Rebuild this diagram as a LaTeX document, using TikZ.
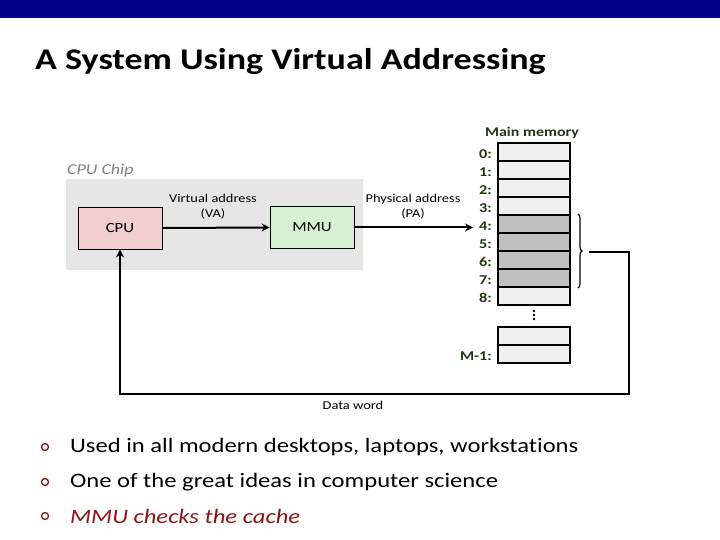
\documentclass[tikz,border=0pt]{standalone}
\usepackage{fontspec}
\setmainfont{Carlito}[FakeStretch=1.2, Ligatures=NoCommon]
\usetikzlibrary{positioning,arrows.meta,calc,decorations.pathreplacing}

\definecolor{barblue}{RGB}{0,0,136}
\definecolor{chipgray}{RGB}{230,230,230}
\definecolor{cpupink}{RGB}{242,206,206}
\definecolor{mmugreen}{RGB}{216,240,210}
\definecolor{celllight}{RGB}{240,240,240}
\definecolor{celldark}{RGB}{192,192,192}
\definecolor{memgreen}{RGB}{30,56,20}
\definecolor{darkred}{RGB}{140,20,20}

\begin{document}
\begin{tikzpicture}[
  x=1pt, y=-1pt,
  >=Stealth,
  unitbox/.style={draw=black, line width=0.8pt, minimum width=84pt, minimum height=42pt, font=\fontsize{14}{16}\selectfont},
  memcell/.style={draw=black, line width=2pt, fill=celllight, minimum width=72pt, minimum height=18pt, inner sep=0pt},
  memlabel/.style={anchor=east, text=memgreen, font=\fontsize{13.5}{15}\selectfont\bfseries, inner sep=0pt},
  addrlabel/.style={align=center, font=\fontsize{12}{15}\selectfont, inner sep=0pt},
  flow/.style={->, line width=2pt, >={Stealth[length=8pt,width=8pt]}},
  bulletring/.style={circle, draw=darkred, line width=1.3pt, minimum size=7pt, inner sep=0pt},
  bullettext/.style={anchor=west, font=\fontsize{20.5}{24}\selectfont, inner sep=0pt}
]
  \useasboundingbox (0,0) rectangle (720,540);
  \fill[barblue] (0,0) rectangle (720,18);
  \node[anchor=west, inner sep=0pt, font=\fontsize{30}{34}\selectfont\bfseries] (title) at (35,62) {A System Using Virtual Addressing};

  % cpu chip
  \node[anchor=north west, fill=chipgray, minimum width=297pt, minimum height=91pt, inner sep=0pt] (chip) at (66,179) {};
  \node[anchor=west, inner sep=0pt, text=gray, font=\fontsize{15}{17}\selectfont\itshape] (chiplabel) at (67,171) {CPU Chip};
  \node[unitbox, fill=cpupink] (cpu) at (120,228) {CPU};
  \node[unitbox, fill=mmugreen] (mmu) at (312,227.5) {MMU};
  \node[addrlabel] (valabel) at (213,206.5) {Virtual address\\(VA)};
  \node[addrlabel] (palabel) at (413,206.5) {Physical address\\(PA)};

  % main memory
  \node[text=memgreen, inner sep=0pt, font=\fontsize{13.3}{16}\selectfont\bfseries] (memtitle) at (532,133) {Main memory};
  \foreach \i in {0,...,8} {
    \node[memcell] (m\i) at (534,152+18*\i) {};
    \node[memlabel] at ($(m\i.west)+(-5,2)$) {\i:};
  }
  \foreach \i in {4,...,7}
    \node[memcell, fill=celldark] at (m\i) {};
  \foreach \d in {311,315,319}
    \fill (534,\d) circle (1.3pt);
  \node[memcell] (mlast2) at (534,336) {};
  \node[memcell] (mlast) at (534,354) {};
  \node[memlabel] at ($(mlast.west)+(-5,2)$) {M-1:};

  % connections
  \coordinate (paend) at (473,227.5);
  \draw[flow] (cpu.east) -- (mmu.west);
  \draw[flow] (mmu.east) -- (paend);
  \draw[line width=1.2pt, decorate, decoration={brace, amplitude=4pt}] ($(m4.north east)+(7,0)$) -- ($(m7.south east)+(7,0)$);
  \coordinate (tip) at ($(m5.south east)+(18,0)$);
  \coordinate (corner) at (629,394);
  \draw[flow] (tip) -| (corner) -| (cpu.south);
  \node[inner sep=0pt, font=\fontsize{12}{15}\selectfont] (dataword) at (353,405) {Data word};

  % bullets
  \foreach \y/\txt in {447/{Used in all modern desktops, laptops, workstations}, 482/{One of the great ideas in computer science}} {
    \node[bulletring] at (45,\y) {};
    \node[bullettext] at (70,\y) {\txt};
  }
  \node[bulletring] (b3) at (45,516) {};
  \node[bullettext, text=darkred, font=\fontsize{20.5}{24}\selectfont\itshape] (mmunote) at (70,516) {MMU checks the cache};
\end{tikzpicture}
\end{document}
